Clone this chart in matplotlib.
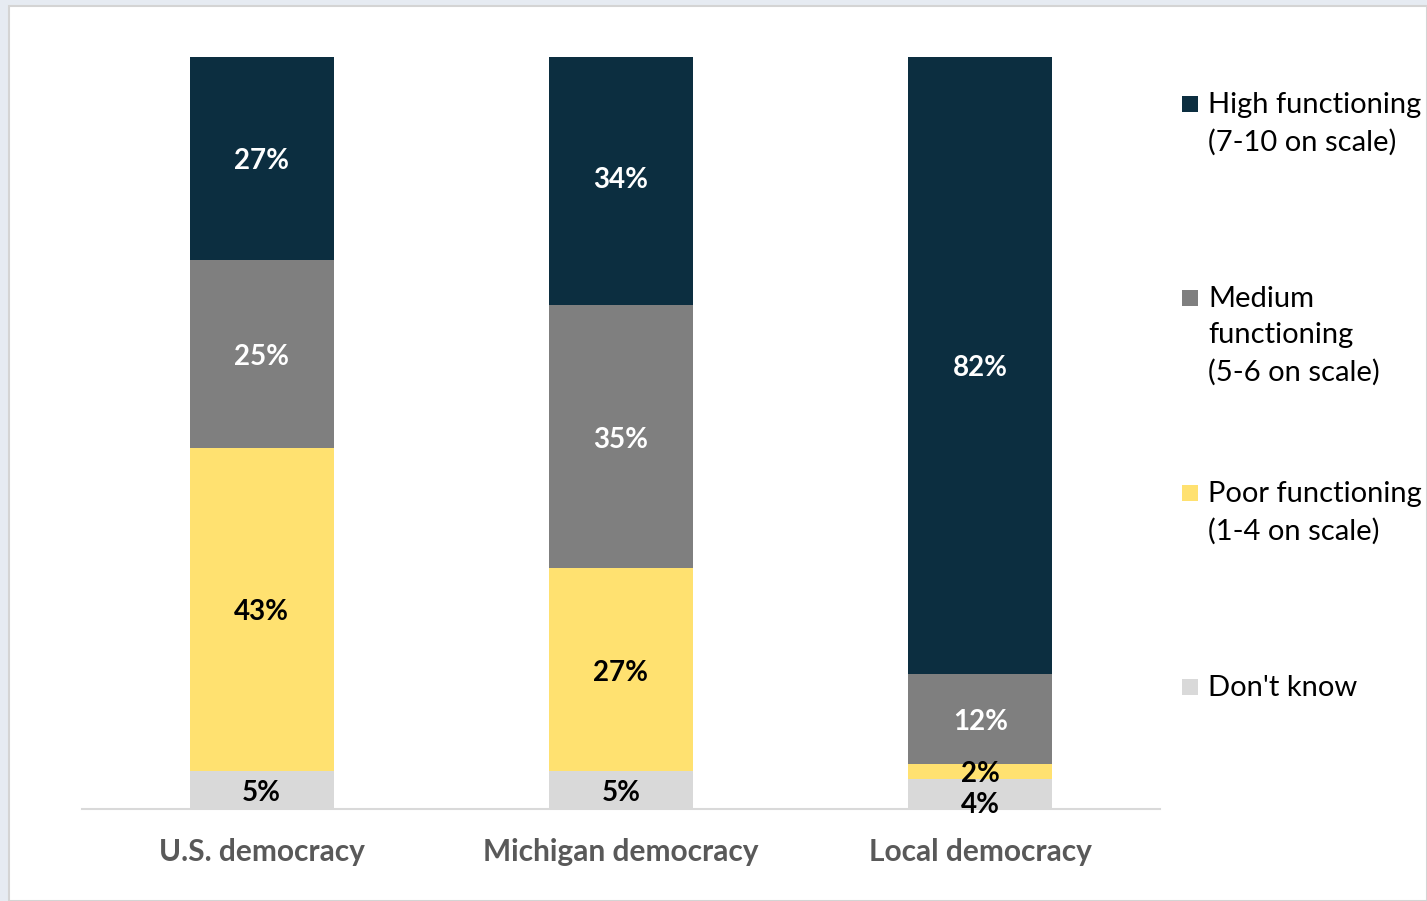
import matplotlib.pyplot as plt
import matplotlib.patches as mpatches
import numpy as np

categories = ["U.S. democracy", "Michigan democracy", "Local democracy"]
series_names = ["Don't know", "Poor functioning\n(1-4 on scale)",
                "Medium\nfunctioning\n(5-6 on scale)", "High functioning\n(7-10 on scale)"]
dont_know = [5, 5, 4]
poor = [43, 27, 2]
medium = [25, 35, 12]
high = [27, 34, 82]

colors = ["#d9d9d9", "#ffe170", "#7f7f7f", "#0c2e40"]
label_colors = ["black", "black", "white", "white"]

plt.rcParams['font.family'] = ['Lato', 'DejaVu Sans']

fig = plt.figure(figsize=(14.27, 9.01), dpi=100)
fig.patch.set_facecolor("#e6ebf2")
panel = mpatches.Rectangle((9/1427, 0), 1 - 9/1427, 1 - 6/901, transform=fig.transFigure,
                           facecolor="white", edgecolor="#d4d4d4", linewidth=1.5, zorder=-10)
fig.patches.append(panel)

ax = fig.add_axes([82/1427, 1 - 809/901, (1160 - 82)/1427, (809 - 57)/901])
ax.set_facecolor("none")

series = [dont_know, poor, medium, high]
x = np.arange(len(categories))
bottom = np.zeros(len(categories))
for si, (vals, col, lc) in enumerate(zip(series, colors, label_colors)):
    vals = np.array(vals, dtype=float)
    ax.bar(x, vals, 0.4, bottom=bottom, color=col, edgecolor="none")
    for xi, v, b in zip(x, vals, bottom):
        yc = b + v / 2
        dy = -2
        if si == 0 and v < 5:
            dy = -8
        ax.annotate(f"{int(v)}%", (xi, yc), xytext=(0, dy), textcoords="offset points",
                    ha="center", va="center", color=lc, fontsize=20, fontweight="bold")
    bottom += vals

ax.set_xlim(-0.5, 2.5)
ax.set_ylim(0, 100)
for s in ["top", "right", "left"]:
    ax.spines[s].set_visible(False)
ax.spines["bottom"].set_color("#d9d9d9")
ax.spines["bottom"].set_linewidth(1.5)
ax.set_yticks([])
ax.set_xticks(x)
ax.set_xticklabels(categories, fontsize=21.5, fontweight="bold", color="#595959")
ax.tick_params(axis="x", length=0, pad=21)

legend_entries = [(3, 104), (2, 298), (1, 493), (0, 687)]
for idx, ycen in legend_entries:
    sq = mpatches.Rectangle((1182/1427, 1 - (ycen + 8)/901), 16/1427, 16/901,
                            transform=fig.transFigure, facecolor=colors[idx], edgecolor="none")
    fig.patches.append(sq)
    fig.text(1208/1427, 1 - (ycen - 12)/901, series_names[idx], ha="left", va="top",
             fontsize=21, color="black", linespacing=1.48)

fig.savefig("out.png", dpi=100, facecolor=fig.get_facecolor())
